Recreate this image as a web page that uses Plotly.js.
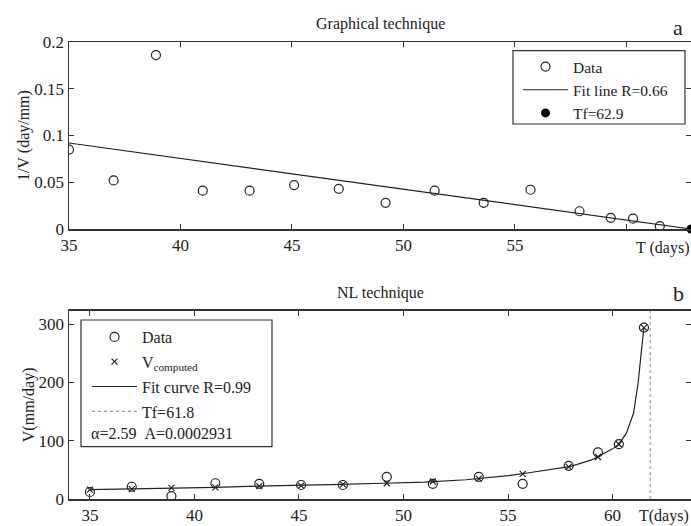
<!DOCTYPE html>
<html>
<head>
<meta charset="utf-8">
<script src="https://cdn.plot.ly/plotly-3.0.1.min.js"></script>
<style>html,body{margin:0;padding:0;background:#fff;}#chart{width:691px;height:526px;}</style>
</head>
<body>
<div id="chart"></div>
<script>
// ---- Panel a: graphical technique ----
const timeA = [35, 37, 38.9, 41, 43.1, 45.1, 47.1, 49.2, 51.4, 53.6, 55.7, 57.9, 59.3, 60.3, 61.5];
const invV = [0.085, 0.052, 0.186, 0.041, 0.041, 0.047, 0.043, 0.028, 0.041, 0.028, 0.042, 0.019, 0.012, 0.011, 0.003];
const fitLineT = [35, 62.9];
const fitLineInv = [0.092, 0];
const tfA = [62.9];
const tfAy = [0];

// ---- Panel b: NL technique ----
const timeB = [35, 37, 38.9, 41, 43.1, 45.1, 47.1, 49.2, 51.4, 53.6, 55.7, 57.9, 59.3, 60.3, 61.5];
const vData = [12, 21, 5, 27, 26, 24, 24, 38, 26, 38, 26, 57, 80, 94, 294];
const vComputed = [16, 17, 19, 20, 22, 23, 25, 27, 30, 35, 43, 55, 72, 94, 294];
const fitCurveT = [35, 37, 39, 41, 43, 45, 47, 49, 51, 53, 55, 56, 57, 58, 59, 60, 60.3, 60.66, 61.0, 61.22, 61.38, 61.5];
const fitCurveV = [16, 17, 19, 20, 22, 23, 25, 27, 29, 33, 40, 45, 50, 56, 67, 86, 94, 113, 147, 199, 255, 295];
const tfBx = [61.8, 61.8];
const tfBy = [0, 330];

const ticksA_x = [35, 40, 45, 50, 55];
const ticksA_xMinor = [60];
const ticksA_y = [0, 0.05, 0.1, 0.15, 0.2];
const ticksA_yt = ['0', '0.05', '0.1', '0.15', '0.2'];
const ticksB_x = [35, 40, 45, 50, 55, 60];
const ticksB_y = [0, 100, 200, 300];

const FONT = 'Liberation Serif, Times New Roman, serif';
const INK = '#222';

const traces = [
  {x: timeA, y: invV, type: 'scatter', mode: 'markers', name: 'Data', xaxis: 'x', yaxis: 'y',
   marker: {symbol: 'circle-open', size: 9, color: INK, line: {width: 1.2}}, legend: 'legend', legendgroup: 'a1'},
  {x: fitLineT, y: fitLineInv, type: 'scatter', mode: 'lines', name: 'Fit line R=0.66', xaxis: 'x', yaxis: 'y',
   line: {color: INK, width: 1.2}, legend: 'legend', legendgroup: 'a2'},
  {x: tfA, y: tfAy, type: 'scatter', mode: 'markers', name: 'Tf=62.9', xaxis: 'x', yaxis: 'y', cliponaxis: false,
   marker: {symbol: 'circle', size: 9, color: '#000'}, legend: 'legend', legendgroup: 'a3'},

  {x: tfBx, y: tfBy, type: 'scatter', mode: 'lines', name: 'Tf=61.8', xaxis: 'x2', yaxis: 'y2',
   line: {color: '#999', width: 1.2, dash: 'dot'}, legend: 'legend2', legendgroup: 'b4', legendrank: 4},
  {x: fitCurveT, y: fitCurveV, type: 'scatter', mode: 'lines', name: 'Fit curve R=0.99', xaxis: 'x2', yaxis: 'y2',
   line: {color: INK, width: 1.2}, legend: 'legend2', legendgroup: 'b3', legendrank: 3},
  {x: timeB, y: vData, type: 'scatter', mode: 'markers', name: 'Data', xaxis: 'x2', yaxis: 'y2',
   marker: {symbol: 'circle-open', size: 9, color: INK, line: {width: 1.2}}, legend: 'legend2', legendgroup: 'b1', legendrank: 1},
  {x: timeB, y: vComputed, type: 'scatter', mode: 'markers', name: 'V<sub>computed</sub>', xaxis: 'x2', yaxis: 'y2',
   marker: {symbol: 'x-thin-open', size: 6, color: INK, line: {width: 1.2, color: INK}}, legend: 'legend2', legendgroup: 'b2', legendrank: 2}
];

const axisCommon = {
  showgrid: false, zeroline: false, showline: true, linecolor: '#333', linewidth: 1.5,
  mirror: 'ticks', ticks: 'inside', ticklen: 5, tickwidth: 1, tickcolor: '#333',
  tickfont: {family: FONT, size: 17, color: INK}, automargin: false
};

const layout = {
  width: 691, height: 526,
  margin: {l: 69, r: 0, t: 42, b: 27},
  paper_bgcolor: '#fff', plot_bgcolor: '#fff',
  font: {family: FONT, color: INK},
  showlegend: true,
  xaxis: Object.assign({}, axisCommon, {domain: [0, 1], range: [35, 62.9], anchor: 'y',
    tickmode: 'array', tickvals: ticksA_x,
    minor: {tickmode: 'array', tickvals: ticksA_xMinor, ticks: 'inside', ticklen: 5, tickwidth: 1, tickcolor: '#333', showgrid: false}}),
  yaxis: Object.assign({}, axisCommon, {domain: [0.5908, 1], range: [0, 0.2], anchor: 'x',
    tickmode: 'array', tickvals: ticksA_y, ticktext: ticksA_yt,
    title: {text: '1/V (day/mm)', font: {family: FONT, size: 16, color: INK}, standoff: 0}}),
  xaxis2: Object.assign({}, axisCommon, {domain: [0, 1], range: [34, 63.75], anchor: 'y2',
    tickmode: 'array', tickvals: ticksB_x}),
  yaxis2: Object.assign({}, axisCommon, {domain: [0, 0.412], range: [0, 323], anchor: 'x2',
    tickmode: 'array', tickvals: ticksB_y,
    title: {text: 'V(mm/day)', font: {family: FONT, size: 16, color: INK}, standoff: 0}}),
  legend: {x: (518-69)/622, y: (499-50)/457, xanchor: 'left', yanchor: 'top',
    font: {family: FONT, size: 15.5, color: INK}, bgcolor: 'rgba(0,0,0,0)', borderwidth: 0,
    itemwidth: 45, traceorder: 'grouped', tracegroupgap: 0},
  legend2: {x: (87-69)/622, y: (499-320)/457, xanchor: 'left', yanchor: 'top',
    font: {family: FONT, size: 16, color: INK}, bgcolor: 'rgba(0,0,0,0)', borderwidth: 0,
    itemwidth: 45, traceorder: 'grouped', tracegroupgap: 1},
  shapes: [
    {type: 'rect', xref: 'paper', yref: 'paper', x0: (513-69)/622, x1: (685-69)/622,
     y0: (499-124)/457, y1: (499-50.7)/457, line: {color: '#333', width: 1.2}, fillcolor: '#fff', layer: 'below'},
    {type: 'rect', xref: 'paper', yref: 'paper', x0: (81-69)/622, x1: (272-69)/622,
     y0: (499-446.7)/457, y1: (499-320)/457, line: {color: '#333', width: 1.2}, fillcolor: '#fff', layer: 'below'}
  ],
  annotations: [
    {text: 'Graphical technique', xref: 'paper', yref: 'paper', x: 0.5, y: (499-24)/457, xanchor: 'center', yanchor: 'middle',
     showarrow: false, font: {family: FONT, size: 16, color: INK}},
    {text: 'NL technique', xref: 'paper', yref: 'paper', x: 0.5, y: (499-293)/457, xanchor: 'center', yanchor: 'middle',
     showarrow: false, font: {family: FONT, size: 16, color: INK}},
    {text: 'a', xref: 'paper', yref: 'paper', x: (678-69)/622, y: (499-27)/457, xanchor: 'center', yanchor: 'middle',
     showarrow: false, font: {family: FONT, size: 22, color: INK}},
    {text: 'b', xref: 'paper', yref: 'paper', x: (678-69)/622, y: (499-293)/457, xanchor: 'center', yanchor: 'middle',
     showarrow: false, font: {family: FONT, size: 22, color: INK}},
    {text: 'T (days)', xref: 'paper', yref: 'paper', x: (691-69)/622, y: (499-248)/457, xanchor: 'right', yanchor: 'middle',
     showarrow: false, font: {family: FONT, size: 16, color: INK}},
    {text: 'T(days)', xref: 'paper', yref: 'paper', x: (691-69)/622, y: (499-516)/457, xanchor: 'right', yanchor: 'middle',
     showarrow: false, font: {family: FONT, size: 16, color: INK}},
    {text: '\u03b1=2.59  A=0.0002931', xref: 'paper', yref: 'paper', x: (89-69)/622, y: (499-433)/457, xanchor: 'left', yanchor: 'middle',
     showarrow: false, font: {family: FONT, size: 16, color: INK}}
  ]
};

Plotly.newPlot('chart', traces, layout, {displayModeBar: false, staticPlot: true});
</script>
</body>
</html>
